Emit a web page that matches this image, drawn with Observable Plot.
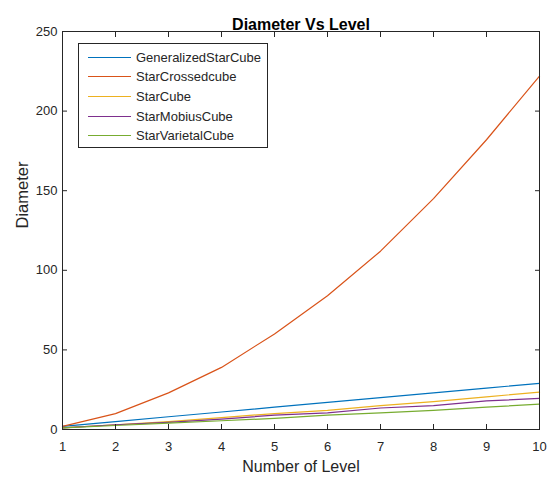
<!DOCTYPE html>
<html>
<head>
<meta charset="utf-8">
<script src="https://cdn.jsdelivr.net/npm/d3@7"></script>
<script src="https://cdn.jsdelivr.net/npm/@observablehq/plot@0.6"></script>
<style>
  html, body { margin: 0; padding: 0; background: white; }
  #wrap { position: relative; width: 551px; height: 481px; font-family: "Liberation Sans", Arial, sans-serif; }
  #legend { position: absolute; left: 78px; top: 43px; width: 190px; height: 105px; border: 1px solid #262626; background: white; box-sizing: border-box; }
  .row { position: absolute; left: 0; height: 20px; display: flex; align-items: center; font-size: 13px; color: #262626; white-space: nowrap; }
  .sw { display: inline-block; width: 43px; height: 0; border-top: 1.3px solid; margin-left: 9px; margin-right: 5px; }
</style>
</head>
<body>
<div id="wrap"></div>
<script>
const levels = [1, 2, 3, 4, 5, 6, 7, 8, 9, 10];
const seriesNames = ["GeneralizedStarCube", "StarCrossedcube", "StarCube", "StarMobiusCube", "StarVarietalCube"];
const colors = ["#0072BD", "#D95319", "#EDB120", "#7E2F8E", "#77AC30"];
const generalizedStarCube = [2, 5, 8, 11, 14, 17, 20, 23, 26, 29];
const starCrossedcube = [2, 10, 23, 39, 60, 84, 112, 145, 182, 222];
const starCube = [1, 3, 5, 7.5, 10, 12, 15, 17.5, 20.5, 23.5];
const starMobiusCube = [1, 3, 4.5, 6.5, 9, 10.5, 13.5, 15, 18, 19.5];
const starVarietalCube = [1, 2.5, 4, 5.5, 7, 9, 10.5, 12, 14, 16];
const yTicks = [0, 50, 100, 150, 200, 250];

const allSeries = [generalizedStarCube, starCrossedcube, starCube, starMobiusCube, starVarietalCube];
const data = [];
allSeries.forEach((vals, i) => vals.forEach((v, j) => data.push({level: levels[j], value: v, series: seriesNames[i]})));

const ink = "#262626";
const chart = Plot.plot({
  width: 551,
  height: 481,
  marginLeft: 62,
  marginRight: 12,
  marginTop: 31,
  marginBottom: 52,
  style: {fontFamily: "'Liberation Sans', Arial, sans-serif", fontSize: "13px", color: ink, background: "white"},
  x: {domain: [1, 10]},
  y: {domain: [0, 250]},
  color: {domain: seriesNames, range: colors},
  marks: [
    Plot.line(data, {x: "level", y: "value", z: "series", stroke: "series", strokeWidth: 1.2}),
    Plot.frame({stroke: ink, strokeWidth: 1}),
    Plot.axisX({ticks: levels, tickSize: -5, tickPadding: 17, tickFormat: d3.format("d"), label: null, stroke: ink}),
    Plot.axisX({anchor: "top", ticks: levels, tickSize: -5, tickFormat: () => "", label: null, stroke: ink}),
    Plot.axisY({ticks: yTicks, tickSize: -5, tickPadding: 10, label: null, stroke: ink}),
    Plot.axisY({anchor: "right", ticks: yTicks, tickSize: -5, tickFormat: () => "", label: null, stroke: ink}),
    Plot.text(["Diameter Vs Level"], {frameAnchor: "top", dy: -13, fontWeight: "bold", fontSize: 16, fill: "black"}),
    Plot.text(["Number of Level"], {frameAnchor: "bottom", dy: 42, fontSize: 16, fill: ink}),
    Plot.text(["Diameter"], {frameAnchor: "left", dx: -40, dy: -2, rotate: -90, fontSize: 16.5, fill: ink})
  ]
});

const wrap = document.getElementById("wrap");
wrap.appendChild(chart);
const legend = document.createElement("div");
legend.id = "legend";
seriesNames.forEach((name, i) => {
  const row = document.createElement("div");
  row.className = "row";
  row.style.top = (3 + i * 19.7) + "px";
  const sw = document.createElement("span");
  sw.className = "sw";
  sw.style.borderTopColor = colors[i];
  const t = document.createElement("span");
  t.textContent = name;
  row.appendChild(sw);
  row.appendChild(t);
  legend.appendChild(row);
});
wrap.appendChild(legend);
</script>
</body>
</html>
